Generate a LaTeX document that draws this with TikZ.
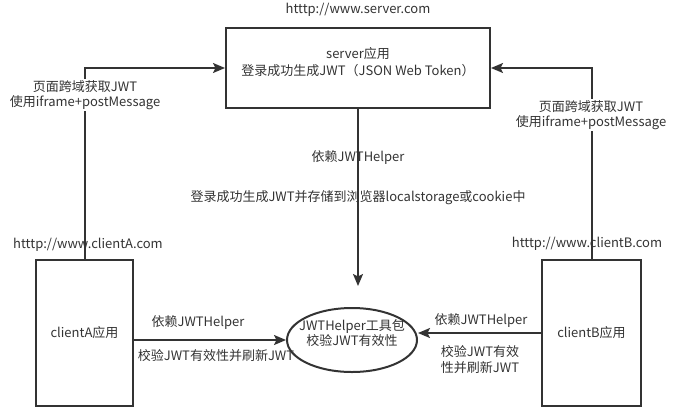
\documentclass[tikz,border=0pt]{standalone}
\usepackage{fontspec}
\setmainfont{Noto Sans CJK SC}
\usetikzlibrary{arrows.meta,shapes.geometric}
\definecolor{ink}{HTML}{333333}

\begin{document}
\begin{tikzpicture}[x=1pt,y=-1pt,
    font=\fontsize{13}{15.5}\selectfont,text=ink,
    box/.style={draw=ink,line width=2pt,inner sep=0pt},
    link/.style={draw=ink,line width=2pt,-{Stealth[length=12pt,width=10pt,inset=2.5pt]}},
    tag/.style={fill=white,inner sep=1pt,align=center}]
    \useasboundingbox (0,0) rectangle (676,407);
    \node(Su) at (358,10){htttp://www.server.com};
    \node[box,minimum width=264pt,minimum height=80pt](S) at (358,68){};
    \node[align=center](St) at (358,62){server应用\\[2pt]登录成功生成JWT（JSON Web Token）};
    \node(Au) at (88,245){htttp://www.clientA.com};
    \node(Bu) at (587,244){htttp://www.clientB.com};
    \node[box,minimum width=97pt,minimum height=146pt](A) at (84.5,333){clientA应用};
    \node[box,minimum width=99pt,minimum height=146pt](B) at (591.5,333){clientB应用};
    \node[box,ellipse,minimum width=130pt,minimum height=64pt](H) at (352,340){};
    \node[align=center](Ht) at (352,333){JWTHelper工具包\\校验JWT有效性};
    \node(L3) at (358,158){依赖JWTHelper};
    \node(L4) at (358,198){登录成功生成JWT并存储到浏览器localstorage或cookie中};
    \draw[link] (A.north) |- (S.west);
    \draw[link] (B.north) |- (S.east);
    \draw[link,shorten >=21pt] (S.south) -- (S.south |- H.north);
    \draw[link] (A.east |- H.west) -- (H.west);
    \draw[link] (B.west) -- (B.west -| H.east);
    \node[tag](L1) at (85,95){页面跨域获取JWT\\使用iframe+postMessage};
    \node[tag](L2) at (591,115){页面跨域获取JWT\\使用iframe+postMessage};
    \node(L5) at (198,323){依赖JWTHelper};
    \node(L6) at (216,356){校验JWT有效性并刷新JWT};
    \node(L7) at (481,321){依赖JWTHelper};
    \node[align=center](L8) at (480,359.5){校验JWT有效\\性并刷新JWT};
\end{tikzpicture}
\end{document}
